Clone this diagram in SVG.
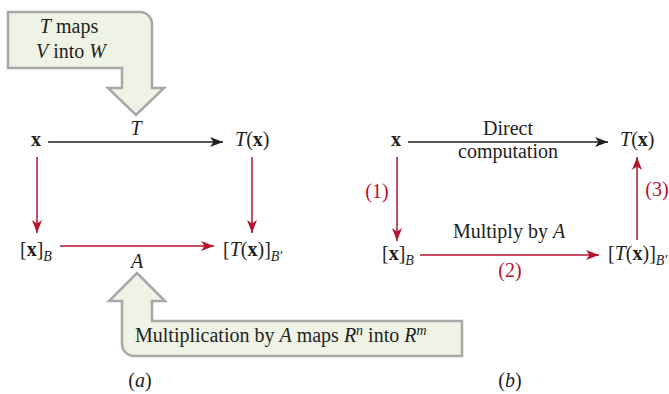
<svg xmlns="http://www.w3.org/2000/svg" width="669" height="394" viewBox="0 0 669 394">
<defs>
<style>
text{font-family:"Liberation Serif","Times New Roman",serif;font-size:20px;fill:#231f20}
.red{fill:#b5132e}
.i{font-style:italic}
.b{font-weight:bold}
.sub{font-size:14px;font-style:italic}
.callout{fill:#eef3e5;stroke:#a7a9a9;stroke-width:2.5;stroke-linejoin:miter}
.blk{stroke:#231f20;stroke-width:1.5;fill:none;marker-end:url(#ahb)}
.rd{stroke:#b5132e;stroke-width:1.5;fill:none;marker-end:url(#ahr)}
</style>
<marker id="ahb" markerUnits="userSpaceOnUse" markerWidth="16" markerHeight="12" refX="14" refY="6" orient="auto" viewBox="0 0 16 12">
<path d="M14,6 L1,1 L4.5,6 L1,11 Z" fill="#231f20"/>
</marker>
<marker id="ahr" markerUnits="userSpaceOnUse" markerWidth="16" markerHeight="12" refX="14" refY="6" orient="auto" viewBox="0 0 16 12">
<path d="M14,6 L1,1 L4.5,6 L1,11 Z" fill="#b5132e"/>
</marker>
</defs>

<g id="callout-top">
<path class="callout" d="M8,12 H140 A12,12 0 0 1 152,24 V88 H164 L136,115 L108,88 H122 V68 H8 Z"/>
<text x="69" y="33" text-anchor="middle"><tspan class="i">T</tspan> maps</text>
<text x="71" y="58" text-anchor="middle"><tspan class="i">V</tspan> into <tspan class="i">W</tspan></text>
</g>

<g id="callout-bottom">
<path class="callout" d="M137,273 L165,301 H152 V321 H462 V356 H134 A12,12 0 0 1 122,344 V301 H109 Z"/>
<text x="135" y="342">Multiplication by <tspan class="i">A</tspan> maps <tspan class="i">R</tspan><tspan class="i" font-size="14" dy="-7">n</tspan><tspan dy="7"> into </tspan><tspan class="i">R</tspan><tspan class="i" font-size="14" dy="-7">m</tspan></text>
</g>

<g id="connectors">
<line class="blk" x1="48" y1="142" x2="223" y2="142"/>
<line class="rd" x1="37" y1="157" x2="37" y2="233"/>
<line class="rd" x1="252" y1="157" x2="252" y2="233"/>
<line class="rd" x1="60" y1="246" x2="214" y2="246"/>
<line class="blk" x1="408" y1="142" x2="608" y2="142"/>
<line class="rd" x1="397" y1="157" x2="397" y2="241"/>
<line class="rd" x1="420" y1="255" x2="599" y2="255"/>
<line class="rd" x1="637" y1="240" x2="637" y2="157"/>
</g>

<g id="a-x"><text x="36" y="146" text-anchor="middle" class="b">x</text></g>
<g id="a-Tx"><text x="235" y="146"><tspan class="i">T</tspan>(<tspan class="b">x</tspan>)</text></g>
<g id="a-xB"><text x="20" y="256">[<tspan class="b">x</tspan>]<tspan class="sub" dy="5">B</tspan></text></g>
<g id="a-TxB"><text x="223" y="256">[<tspan class="i">T</tspan>(<tspan class="b">x</tspan>)]<tspan class="sub" dy="5">B′</tspan></text></g>
<g id="a-labels">
<text x="136" y="135" text-anchor="middle" class="i">T</text>
<text x="137" y="268" text-anchor="middle" class="i">A</text>
</g>

<g id="b-x"><text x="396" y="146" text-anchor="middle" class="b">x</text></g>
<g id="b-Tx"><text x="620" y="146"><tspan class="i">T</tspan>(<tspan class="b">x</tspan>)</text></g>
<g id="b-xB"><text x="382" y="260">[<tspan class="b">x</tspan>]<tspan class="sub" dy="5">B</tspan></text></g>
<g id="b-TxB"><text x="608" y="260">[<tspan class="i">T</tspan>(<tspan class="b">x</tspan>)]<tspan class="sub" dy="5">B′</tspan></text></g>
<g id="b-labels">
<text x="508" y="135" text-anchor="middle">Direct</text>
<text x="508" y="158" text-anchor="middle">computation</text>
<text x="509" y="238" text-anchor="middle">Multiply by <tspan class="i">A</tspan></text>
<text x="377" y="198" text-anchor="middle" class="red">(1)</text>
<text x="510" y="277" text-anchor="middle" class="red">(2)</text>
<text x="657" y="196" text-anchor="middle" class="red">(3)</text>
</g>

<g id="captions">
<text x="140" y="387" text-anchor="middle">(<tspan class="i">a</tspan>)</text>
<text x="510" y="387" text-anchor="middle">(<tspan class="i">b</tspan>)</text>
</g>
</svg>
